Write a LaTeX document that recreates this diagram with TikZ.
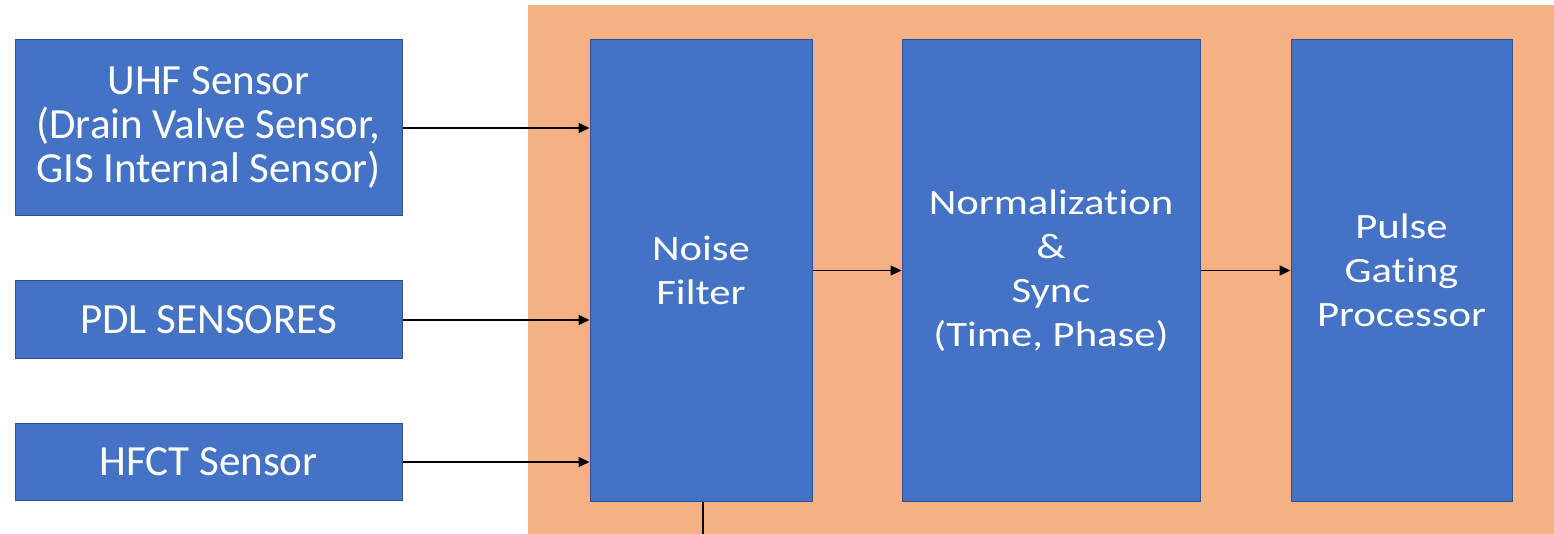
\documentclass[tikz,border=0pt]{standalone}
\usepackage{fontspec}
\setmainfont[Ligatures=NoCommon]{Carlito}
\newfontfamily\widefont[FakeStretch=1.2,Ligatures=NoCommon]{Carlito}
\usetikzlibrary{arrows.meta}
\definecolor{boxblue}{HTML}{4472C4}
\definecolor{boxedge}{HTML}{2F528F}
\definecolor{panelorange}{HTML}{F4B183}
\begin{document}
\begin{tikzpicture}[x=0.5pt,y=-0.5pt,
  block/.style={draw=boxedge, line width=0.5pt, fill=boxblue, text=white, align=center, inner sep=0pt},
  leftbox/.style={block, font=\fontsize{21.5}{22}\selectfont},
  rightbox/.style={block, font=\widefont\fontsize{17.8}{22}\selectfont},
  flow/.style={draw=black, line width=0.7pt, -{Triangle[length=5.5pt,width=5pt]}},
  wire/.style={draw=black, line width=0.7pt}]
\useasboundingbox (0,0) rectangle (1554,534);
\fill[white] (0,0) rectangle (1554,534);
\fill[panelorange] (528,5) rectangle (1554,534);
\node[leftbox, minimum width=193.5pt, minimum height=88pt] (uhf) at (208.5,128) {UHF Sensor\\(Drain Valve Sensor,\\GIS Internal Sensor)};
\node[leftbox, minimum width=193.5pt, minimum height=39pt] (pdl) at (208.5,320) {PDL SENSORES};
\node[leftbox, minimum width=193.5pt, minimum height=38.5pt] (hfct) at (208.5,462) {HFCT Sensor};
\node[rightbox, minimum width=111pt, minimum height=230.5pt] (noise) at (701,270.5) {Noise\\Filter};
\node[rightbox, minimum width=149pt, minimum height=230.5pt] (norm) at (1051,270.5) {Normalization\\\&\\Sync\\(Time, Phase)};
\node[rightbox, minimum width=110.5pt, minimum height=230.5pt] (pulse) at (1401.5,270.5) {Pulse\\Gating\\Processor};
\coordinate (down) at (703,534);
\draw[flow] (uhf.east) -- (uhf.east -| noise.west);
\draw[flow] (pdl.east) -- (pdl.east -| noise.west);
\draw[flow] (hfct.east) -- (hfct.east -| noise.west);
\draw[flow] (noise.east) -- (norm.west);
\draw[flow] (norm.east) -- (pulse.west);
\draw[wire] (noise.south -| down) -- (down);
\end{tikzpicture}
\end{document}
